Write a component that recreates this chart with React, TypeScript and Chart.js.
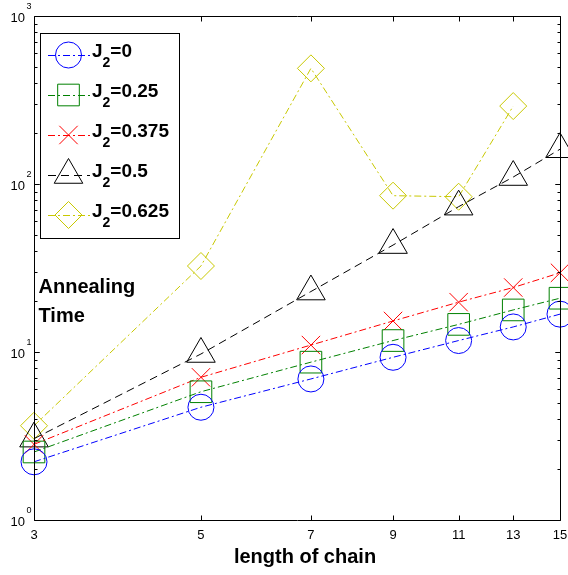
import React, { useEffect, useRef } from 'react';
import { Chart, registerables } from 'chart.js';

Chart.register(...registerables);

// ---- data ----
const chainLengths = [3, 5, 7, 9, 11, 13, 15];
const timeJ2_0 = [2.22, 4.69, 6.91, 9.3, 11.7, 14.1, 16.8];
const timeJ2_025 = [2.54, 5.8, 8.7, 11.7, 14.6, 17.8, 20.9];
const timeJ2_0375 = [2.82, 7.07, 11.0, 15.3, 19.8, 24.2, 29.6];
const timeJ2_05 = [3.05, 9.73, 22.9, 43.3, 73.3, 110, 161];
const timeJ2_0625 = [3.64, 32.5, 488, 85.2, 84, 291, null];
const xTickValues = [3, 5, 7, 9, 11, 13, 15];
const yTickExponents = [0, 1, 2, 3];
const seriesJ2 = ['0', '0.25', '0.375', '0.5', '0.625'];

const FONT = "'Liberation Sans', Arial, Helvetica, sans-serif";

type Style = {
  color: string;
  point: string;
  radius: number;
  dash: number[];
};

const styles: Style[] = [
  { color: 'rgb(0,0,255)', point: 'circle', radius: 13, dash: [7, 3, 2, 3] },
  { color: 'rgb(0,128,0)', point: 'rect', radius: 15.3, dash: [7, 3, 2, 3] },
  { color: 'rgb(255,0,0)', point: 'crossRot', radius: 13, dash: [7, 3, 2, 3] },
  { color: 'rgb(0,0,0)', point: 'triangle', radius: 16.5, dash: [8, 5] },
  { color: 'rgb(200,200,0)', point: 'rectRot', radius: 13.5, dash: [7, 3, 2, 3] },
];

const seriesValues = [timeJ2_0, timeJ2_025, timeJ2_0375, timeJ2_05, timeJ2_0625];

function drawMarker(ctx: CanvasRenderingContext2D, style: string, x: number, y: number, r: number) {
  ctx.beginPath();
  switch (style) {
    case 'circle':
      ctx.arc(x, y, r, 0, Math.PI * 2);
      break;
    case 'rect': {
      const s = Math.SQRT1_2 * r;
      ctx.rect(x - s, y - s, 2 * s, 2 * s);
      break;
    }
    case 'crossRot': {
      const o = Math.SQRT1_2 * r;
      ctx.moveTo(x - o, y - o);
      ctx.lineTo(x + o, y + o);
      ctx.moveTo(x - o, y + o);
      ctx.lineTo(x + o, y - o);
      break;
    }
    case 'triangle': {
      const a = (2 * Math.PI) / 3;
      ctx.moveTo(x, y - r);
      ctx.lineTo(x + Math.sin(a) * r, y - Math.cos(a) * r);
      ctx.lineTo(x + Math.sin(2 * a) * r, y - Math.cos(2 * a) * r);
      ctx.closePath();
      break;
    }
    case 'rectRot':
      ctx.moveTo(x - r, y);
      ctx.lineTo(x, y - r);
      ctx.lineTo(x + r, y);
      ctx.lineTo(x, y + r);
      ctx.closePath();
      break;
  }
  ctx.stroke();
}

const decorPlugin = {
  id: 'matlabDecor',
  afterDatasetsDraw(chart: any) {
    const ctx: CanvasRenderingContext2D = chart.ctx;
    const { left, right, top, bottom } = chart.chartArea;
    const xs = chart.scales.x;
    const ys = chart.scales.y;
    const L = Math.round(left) + 0.5;
    const R = Math.round(right) + 0.5;
    const T = Math.round(top) + 0.5;
    const B = Math.round(bottom) + 0.5;

    ctx.save();
    ctx.setLineDash([]);
    ctx.strokeStyle = '#000';
    ctx.lineWidth = 1;

    // box
    ctx.beginPath();
    ctx.rect(L, T, R - L, B - T);
    ctx.stroke();

    // x ticks (inward, bottom and top)
    ctx.beginPath();
    xTickValues.forEach((v) => {
      const px = Math.round(xs.getPixelForValue(v)) + 0.5;
      ctx.moveTo(px, B);
      ctx.lineTo(px, B - 5);
      ctx.moveTo(px, T);
      ctx.lineTo(px, T + 5);
    });
    // y ticks (major + minor, inward, left and right)
    for (let e = 0; e < 3; e++) {
      for (let m = 1; m <= 10; m++) {
        const v = m * Math.pow(10, e);
        const py = Math.round(ys.getPixelForValue(v)) + 0.5;
        const len = m === 1 || m === 10 ? 5 : 3;
        ctx.moveTo(L, py);
        ctx.lineTo(L + len, py);
        ctx.moveTo(R, py);
        ctx.lineTo(R - len, py);
      }
    }
    ctx.stroke();

    // x tick labels
    ctx.fillStyle = '#000';
    ctx.font = `13px ${FONT}`;
    ctx.textAlign = 'center';
    ctx.textBaseline = 'alphabetic';
    xTickValues.forEach((v) => {
      const px = xs.getPixelForValue(v);
      ctx.fillText(String(v), px, bottom + 19);
    });

    // y tick labels 10^n
    yTickExponents.forEach((n) => {
      const py = ys.getPixelForValue(Math.pow(10, n));
      ctx.font = `13px ${FONT}`;
      ctx.textAlign = 'right';
      ctx.fillText('10', 25, py + 6);
      ctx.font = `9px ${FONT}`;
      ctx.textAlign = 'left';
      ctx.fillText(String(n), 26.5, py - 7);
    });

    // axis label
    ctx.font = `bold 20px ${FONT}`;
    ctx.textAlign = 'center';
    ctx.fillText('length of chain', 305, 563);

    // y label inside plot
    ctx.font = `bold 20px ${FONT}`;
    ctx.textAlign = 'left';
    ctx.fillText('Annealing', 38.5, 293);
    ctx.fillText('Time', 38.5, 321.5);

    // legend
    const lx0 = 40.5, ly0 = 33.5, lx1 = 179.5, ly1 = 238.5;
    ctx.fillStyle = '#fff';
    ctx.fillRect(lx0, ly0, lx1 - lx0, ly1 - ly0);
    ctx.strokeStyle = '#000';
    ctx.strokeRect(lx0, ly0, lx1 - lx0, ly1 - ly0);

    seriesJ2.forEach((label, i) => {
      const st = styles[i];
      const yRow = 55 + i * 40;
      ctx.strokeStyle = st.color;
      ctx.lineWidth = 1;
      ctx.setLineDash(st.dash);
      ctx.beginPath();
      ctx.moveTo(48, yRow + 0.5);
      ctx.lineTo(90, yRow + 0.5);
      ctx.stroke();
      ctx.setLineDash([]);
      drawMarker(ctx, st.point, 68.5, yRow, st.radius);

      ctx.fillStyle = '#000';
      ctx.textAlign = 'left';
      ctx.font = `bold 19px ${FONT}`;
      let tx = 92;
      ctx.fillText('J', tx, yRow + 2);
      tx += ctx.measureText('J').width;
      ctx.font = `bold 14px ${FONT}`;
      ctx.fillText('2', tx, yRow + 12);
      tx += ctx.measureText('2').width;
      ctx.font = `bold 19px ${FONT}`;
      ctx.fillText('=' + label, tx, yRow + 2);
    });

    ctx.restore();
  },
};

export default function App() {
  const ref = useRef<HTMLCanvasElement | null>(null);

  useEffect(() => {
    if (!ref.current) return;
    const datasets = seriesValues.map((vals, i) => {
      const st = styles[i];
      return {
        label: 'J2=' + seriesJ2[i],
        data: chainLengths.map((x, k) => ({ x, y: vals[k] })),
        borderColor: st.color,
        backgroundColor: 'transparent',
        borderWidth: 1,
        borderDash: st.dash,
        pointStyle: st.point,
        pointRadius: st.radius,
        pointBorderColor: st.color,
        pointBackgroundColor: 'transparent',
        pointBorderWidth: 1,
        tension: 0,
        fill: false,
        clip: false as any,
        spanGaps: false,
      };
    });

    const chart = new Chart(ref.current, {
      type: 'line',
      data: { datasets: datasets as any },
      options: {
        animation: false,
        responsive: false,
        devicePixelRatio: 1,
        events: [],
        layout: { autoPadding: false, padding: { left: 34, top: 16, right: 8, bottom: 55 } },
        plugins: {
          legend: { display: false },
          tooltip: { enabled: false },
          title: { display: false },
        },
        scales: {
          x: { type: 'logarithmic', min: 3, max: 15, display: false },
          y: { type: 'logarithmic', min: 1, max: 1000, display: false },
        },
      },
      plugins: [decorPlugin],
    });
    return () => chart.destroy();
  }, []);

  return (
    <div style={{ position: 'fixed', left: 0, top: 0, width: 568, height: 575, background: '#fff' }}>
      <canvas ref={ref} width={568} height={575} style={{ display: 'block' }} />
    </div>
  );
}
